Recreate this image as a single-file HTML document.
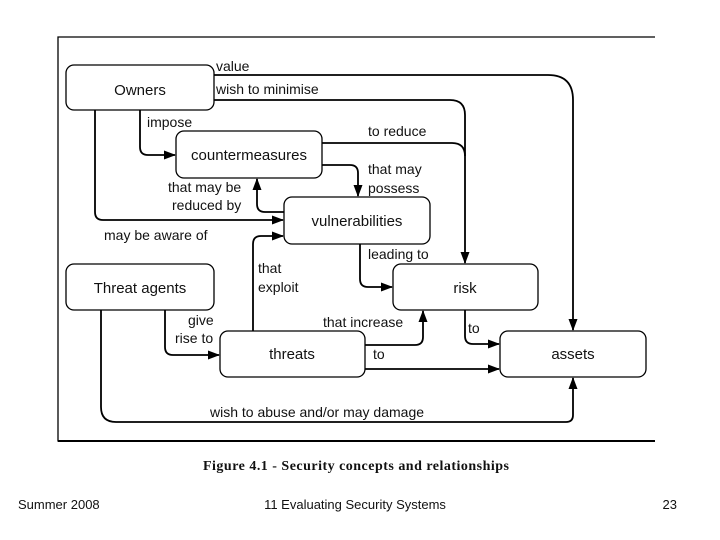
<!DOCTYPE html>
<html><head><meta charset="utf-8"><style>
html,body{margin:0;padding:0;background:#fff;}
svg{display:block;}
text{font-family:"Liberation Sans",sans-serif;font-size:14px;fill:#111;}
.n{font-size:15px;}
</style></head><body>
<svg width="720" height="540" viewBox="0 0 720 540" xmlns="http://www.w3.org/2000/svg">
<defs>
<marker id="a" markerWidth="12" markerHeight="9" refX="11" refY="4.5" orient="auto" markerUnits="userSpaceOnUse">
<path d="M0,0 L12,4.5 L0,9 z" fill="#000"/></marker>
</defs>
<path d="M655,37 H58 V441 H655" fill="none" stroke="#000" stroke-width="1.3"/>
<line x1="58" y1="441" x2="655" y2="441" stroke="#000" stroke-width="2"/>
<g fill="#fff" stroke="#000" stroke-width="1.3">
<rect x="66" y="65" width="148" height="45" rx="8"/>
<rect x="176" y="131" width="146" height="47" rx="8"/>
<rect x="284" y="197" width="146" height="47" rx="8"/>
<rect x="66" y="264" width="148" height="46" rx="8"/>
<rect x="393" y="264" width="145" height="46" rx="8"/>
<rect x="220" y="331" width="145" height="46" rx="8"/>
<rect x="500" y="331" width="146" height="46" rx="8"/>
</g>
<g fill="none" stroke="#000" stroke-width="1.8">
<path d="M214,75 H548 Q573,75 573,100 V330" marker-end="url(#a)"/>
<path d="M214,100 H450 Q465,100 465,115 V263" marker-end="url(#a)"/>
<path d="M322,143 H452 Q465,143 465,156"/>
<path d="M322,165 H350 Q358,165 358,173 V196" marker-end="url(#a)"/>
<path d="M284,212 H265 Q257,212 257,204 V179" marker-end="url(#a)"/>
<path d="M140,110 V147 Q140,155 148,155 H175" marker-end="url(#a)"/>
<path d="M95,110 V212 Q95,220 103,220 H283" marker-end="url(#a)"/>
<path d="M253,331 V244 Q253,236 261,236 H283" marker-end="url(#a)"/>
<path d="M360,244 V279 Q360,287 368,287 H392" marker-end="url(#a)"/>
<path d="M165,310 V347 Q165,355 173,355 H219" marker-end="url(#a)"/>
<path d="M365,345 H415 Q423,345 423,337 V311" marker-end="url(#a)"/>
<path d="M465,310 V336 Q465,344 473,344 H499" marker-end="url(#a)"/>
<path d="M365,369 H499" marker-end="url(#a)"/>
<path d="M101,310 V407 Q101,422 116,422 H566 Q573,422 573,415 V378" marker-end="url(#a)"/>
</g>
<g text-anchor="middle" class="n">
<text class="n" x="140" y="95">Owners</text>
<text class="n" x="249" y="160">countermeasures</text>
<text class="n" x="357" y="226">vulnerabilities</text>
<text class="n" x="140" y="293">Threat agents</text>
<text class="n" x="465" y="293">risk</text>
<text class="n" x="292" y="359">threats</text>
<text class="n" x="573" y="359">assets</text>
</g>
<text x="216" y="71">value</text>
<text x="216" y="94">wish to minimise</text>
<text x="147" y="127">impose</text>
<text x="368" y="136">to reduce</text>
<text x="368" y="174">that may</text>
<text x="368" y="193">possess</text>
<text x="168" y="192">that may be</text>
<text x="172" y="210">reduced by</text>
<text x="104" y="240">may be aware of</text>
<text x="368" y="259">leading to</text>
<text x="258" y="273">that</text>
<text x="258" y="292">exploit</text>
<text x="188" y="325">give</text>
<text x="175" y="343">rise to</text>
<text x="323" y="327">that increase</text>
<text x="468" y="333">to</text>
<text x="373" y="359">to</text>
<text x="210" y="417">wish to abuse and/or may damage</text>
<text x="356" y="470" text-anchor="middle" textLength="306" style="font-family:'Liberation Serif',serif;font-weight:bold;font-size:14px">Figure 4.1  -  Security concepts and relationships</text>
<text x="18" y="509" style="font-size:13px">Summer 2008</text>
<text x="355" y="509" text-anchor="middle" style="font-size:13px">11 Evaluating Security Systems</text>
<text x="677" y="509" text-anchor="end" style="font-size:13px">23</text>
</svg>
</body></html>
